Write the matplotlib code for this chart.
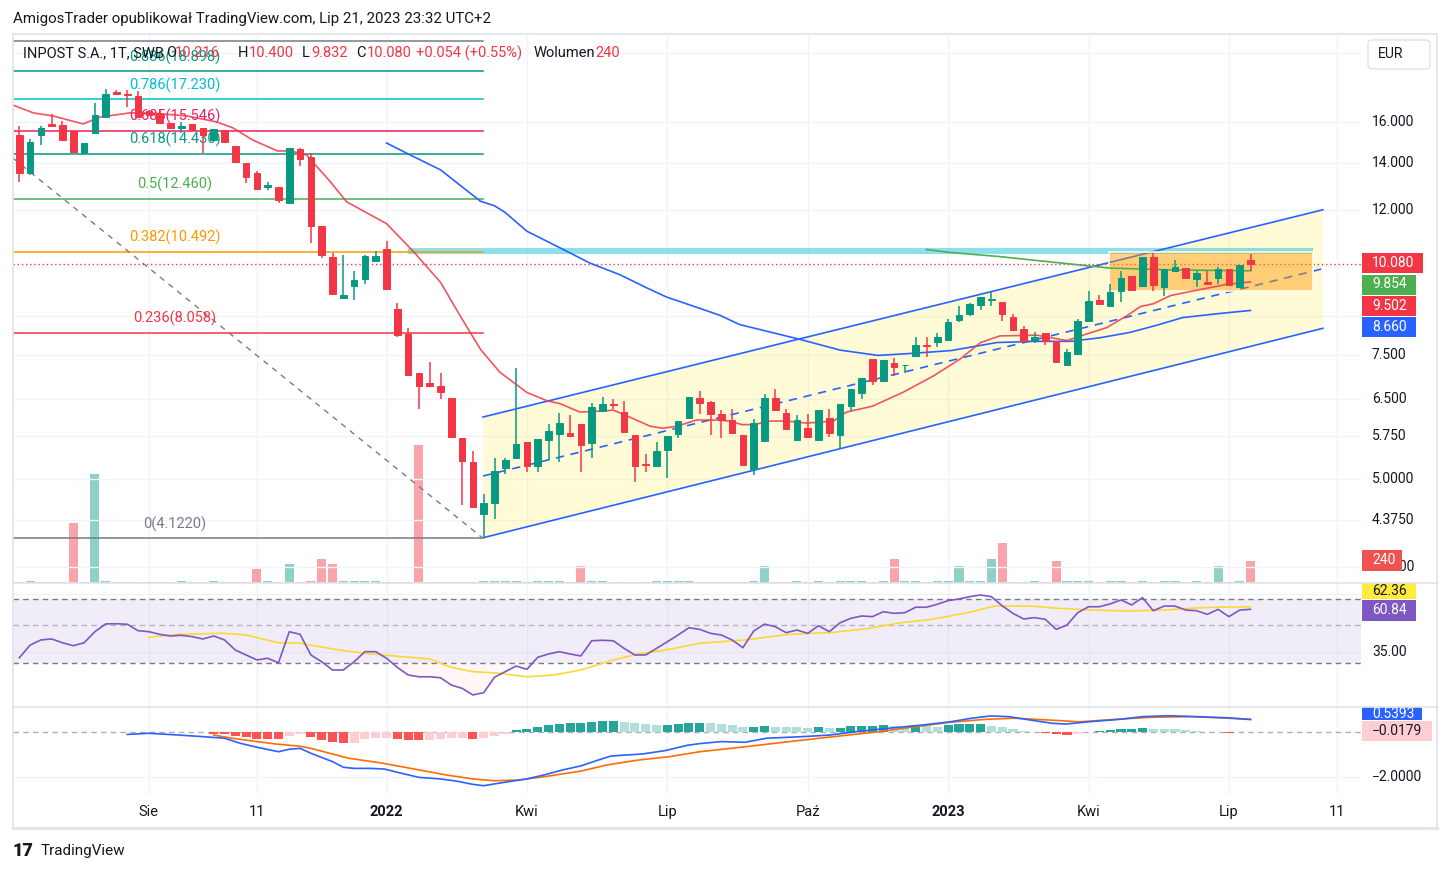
import numpy as np
import matplotlib
matplotlib.use("Agg")
import matplotlib.pyplot as plt
from matplotlib.patches import Rectangle, Polygon, FancyBboxPatch
from matplotlib.lines import Line2D

# ---------------- DATA ----------------
opens = [15.34, 13.53, 15.34, 15.91, 15.85, 15.55, 14.48, 15.45, 16.28, 17.62, 17.55, 17.42, 16.57, 16.46, 15.96, 15.68, 15.90, 15.67, 15.09, 15.59,
         14.80, 13.99, 13.54, 12.95, 12.94, 12.28, 14.67, 14.26, 11.41, 10.31, 9.02, 9.37, 9.60, 10.17, 10.59, 8.69, 8.01, 7.06, 6.83, 6.77,
         6.51, 5.72, 5.29, 4.46, 4.63, 5.19, 5.36, 5.64, 5.22, 5.67, 5.80, 5.81, 5.99, 5.62, 6.25, 6.39, 6.22, 5.77, 5.26, 5.22,
         5.49, 5.79, 6.10, 6.51, 6.42, 6.19, 6.06, 5.77, 5.17, 5.66, 6.51, 6.20, 5.67, 5.91, 5.68, 6.10, 5.78, 6.35, 6.61, 7.39,
         6.88, 7.29, 7.24, 7.47, 7.75, 7.82, 7.86, 8.39, 8.57, 8.81, 8.95, 8.89, 8.47, 8.16, 7.87, 8.04, 7.84, 7.26, 7.51, 8.37,
         8.97, 8.78, 9.22, 9.70, 9.37, 10.31, 9.35, 9.84, 9.94, 9.59, 9.50, 9.61, 9.91, 9.34, 10.216]
highs = [15.79, 15.12, 15.79, 16.44, 16.05, 15.55, 14.96, 17.04, 17.82, 17.76, 17.76, 17.68, 16.62, 16.68, 15.96, 16.02, 15.90, 15.67, 15.63, 15.59,
         14.80, 13.99, 13.65, 13.15, 12.94, 14.69, 14.69, 14.44, 11.41, 10.45, 10.36, 9.84, 10.39, 10.50, 10.86, 8.86, 8.19, 7.06, 7.31, 7.06,
         6.51, 5.72, 5.47, 4.76, 5.35, 5.36, 7.17, 5.64, 5.70, 5.99, 6.20, 6.16, 5.99, 6.40, 6.54, 6.50, 6.45, 5.77, 5.43, 5.65,
         5.75, 6.04, 6.54, 6.66, 6.45, 6.27, 6.28, 5.77, 6.08, 6.59, 6.70, 6.28, 6.16, 6.18, 6.26, 6.28, 6.39, 6.70, 6.94, 7.39,
         7.37, 7.41, 7.26, 7.93, 7.95, 8.04, 8.43, 8.80, 8.86, 9.05, 9.20, 8.89, 8.57, 8.24, 8.06, 8.04, 7.84, 7.65, 8.43, 9.22,
         9.12, 9.43, 9.86, 9.70, 10.31, 10.45, 9.91, 10.19, 9.94, 9.84, 9.86, 9.97, 9.91, 10.05, 10.40]
lows = [13.18, 13.45, 14.85, 15.78, 15.09, 14.50, 14.48, 15.45, 16.28, 17.45, 16.82, 16.28, 16.35, 15.93, 15.70, 15.42, 15.59, 14.48, 15.09, 14.96,
        14.03, 13.11, 12.86, 12.80, 12.28, 12.28, 13.88, 10.78, 10.28, 9.14, 9.02, 8.95, 9.45, 10.17, 9.29, 7.95, 7.02, 6.28, 6.76, 6.50,
        5.71, 4.60, 4.57, 4.122, 4.39, 5.09, 5.36, 5.11, 5.11, 5.32, 5.29, 5.76, 5.11, 5.36, 6.25, 6.29, 5.83, 4.96, 5.11, 5.22,
        5.01, 5.72, 6.10, 6.18, 5.77, 5.72, 5.81, 5.24, 5.06, 5.66, 6.27, 5.88, 5.67, 5.74, 5.68, 5.74, 5.54, 6.24, 6.48, 6.79,
        6.88, 7.00, 7.06, 7.45, 7.45, 7.70, 7.86, 8.33, 8.50, 8.67, 8.78, 8.37, 8.12, 7.85, 7.78, 7.74, 7.29, 7.26, 7.51, 8.37,
        8.85, 8.78, 8.89, 9.27, 9.34, 9.22, 9.07, 9.84, 9.64, 9.35, 9.45, 9.43, 9.40, 9.34, 9.832]
closes = [13.57, 14.99, 15.70, 15.81, 15.09, 14.53, 14.96, 16.39, 17.53, 17.55, 17.45, 16.28, 16.39, 15.93, 15.70, 15.79, 15.59, 15.34, 15.63, 15.00,
          14.03, 13.39, 12.86, 13.05, 12.42, 14.69, 14.19, 11.39, 10.36, 9.14, 9.11, 9.55, 10.33, 10.33, 9.29, 7.99, 7.02, 6.76, 6.76, 6.64,
          5.74, 5.31, 4.57, 4.63, 5.14, 5.32, 5.60, 5.21, 5.70, 5.85, 6.00, 5.76, 5.59, 6.32, 6.39, 6.36, 5.83, 5.22, 5.24, 5.47,
          5.75, 6.04, 6.54, 6.41, 6.18, 6.06, 5.81, 5.24, 6.00, 6.51, 6.27, 5.88, 6.06, 5.74, 6.26, 5.81, 6.39, 6.70, 6.94, 6.88,
          7.37, 7.21, 7.26, 7.73, 7.71, 7.94, 8.33, 8.52, 8.83, 9.05, 8.99, 8.55, 8.12, 7.85, 7.94, 7.83, 7.33, 7.57, 8.37, 8.92,
          8.85, 9.19, 9.63, 9.27, 10.31, 9.40, 9.91, 9.97, 9.64, 9.77, 9.45, 9.91, 9.40, 10.026, 10.080]
volume = [15, 20, 15, 15, 15, 655, 15, 1190, 20, 15, 15, 15, 15, 15, 15, 20, 15, 15, 20, 15,
          15, 15, 150, 20, 15, 207, 15, 20, 262, 207, 20, 20, 20, 20, 15, 15, 15, 1495, 15, 15,
          15, 15, 15, 20, 20, 20, 20, 15, 20, 20, 20, 15, 185, 20, 20, 15, 15, 15, 15, 20,
          20, 20, 20, 15, 15, 15, 15, 15, 20, 185, 15, 15, 20, 15, 20, 15, 20, 20, 20, 15,
          20, 262, 20, 20, 15, 20, 20, 185, 20, 20, 262, 436, 15, 15, 20, 15, 240, 20, 20, 20,
          15, 20, 20, 15, 20, 15, 20, 20, 15, 20, 15, 185, 15, 20, 240]

# moving averages (week index, value)
ma_red_idx = [-0.6, 1.3, 3.1, 5.9, 7.5, 10.2, 12.1, 15.5, 18.3, 19.8, 21.6, 23.9, 25.1, 26.6, 27.2, 28.8, 30.3, 32.7, 34.0, 36.5,
              39.0, 40.8, 42.7, 44.5, 47.0, 48.9, 50.1, 51.9, 54.0, 55.0, 56.5, 58.4, 59.6, 60.9, 62.7, 64.6, 65.8, 66.9, 68.1, 69.3,
              71.1, 72.9, 75.4, 76.6, 79.0, 81.8, 84.6, 87.1, 89.0, 90.8, 94.2, 97.0, 98.5, 100.7, 102.6, 103.8, 105.0, 106.6, 108.4, 110.3,
              111.8, 114.0]
ma_red_val = [16.91, 16.48, 16.32, 15.90, 16.26, 16.48, 16.48, 16.32, 16.00, 15.69, 15.09, 14.56, 14.56, 14.37, 14.03, 13.17, 12.34, 11.78, 11.49, 10.49,
              9.49, 8.52, 7.63, 7.08, 6.63, 6.45, 6.39, 6.22, 6.24, 6.26, 6.12, 5.94, 5.90, 5.94, 6.06, 6.06, 6.04, 5.97, 5.97, 6.04,
              6.04, 6.00, 6.04, 6.22, 6.34, 6.63, 6.99, 7.39, 7.80, 7.97, 7.99, 7.85, 7.99, 8.19, 8.52, 8.77, 8.85, 9.09, 9.21, 9.33,
              9.43, 9.502]
ma_blue_idx = [34, 36, 39, 42.7, 44, 45, 47, 50.7, 52.8, 55.6, 58.1, 59.9, 63, 64.9, 66.7, 72.3, 76, 79.5, 82.7, 86.3,
               90.5, 94, 97.3, 100, 102.8, 105.3, 107.7, 111, 114]
ma_blue_val = [14.94, 14.42, 13.69, 12.36, 12.18, 11.91, 11.21, 10.50, 10.11, 9.73, 9.32, 9.05, 8.72, 8.52, 8.27, 7.88, 7.61, 7.48, 7.53, 7.60,
               7.80, 7.83, 7.83, 7.92, 8.06, 8.25, 8.46, 8.57, 8.66]
ma_green_idx = [84, 86.2, 90.8, 95, 101, 107, 114]
ma_green_val = [10.56, 10.46, 10.32, 10.16, 9.94, 9.88, 9.854]

# fibonacci retracement
fib_labels = ["0(4.1220)", "0.236(8.058)", "0.382(10.492)", "0.5(12.460)", "0.618(14.430)",
              "0.685(15.546)", "0.786(17.230)", "0.886(18.898)", None]
fib_prices = [4.122, 8.058, 10.492, 12.460, 14.430, 15.546, 17.230, 18.898, 20.798]
fib_colors = ["#787b86", "#f23645", "#ff9800", "#4caf50", "#089981", "#e91e63", "#00bcd4", "#089981", "#787b86"]
fib_end_idx = 42.94
fib_trend_idx = [-0.58, 42.94]
fib_trend_val = [14.22, 4.122]

# parallel channel
chan_idx = [42.94, 120.7]
chan_upper = [6.12, 12.02]
chan_mid = [5.05, 9.92]
chan_lower = [4.13, 8.17]

# zones
res_zone_idx = [35.99, 119.8]
res_zone_val = [10.42, 10.62]
box_idx = [100.9, 119.8]
box_val = [9.22, 10.48]

# RSI
rsi = [31.5, 39.2, 42.3, 42.9, 40.6, 38.8, 40.6, 47.3, 52.0, 52.1, 51.8, 47.9, 47.3, 45.7, 44.7, 45.1, 44.3, 42.9, 44.7, 42.3,
       36.2, 33.2, 30.2, 31.2, 28.5, 47.3, 45.7, 33.2, 29.1, 24.1, 24.1, 29.1, 35.2, 35.2, 31.2, 25.7, 21.1, 20.0, 20.0, 19.4,
       15.0, 13.0, 9.0, 10.4, 19.7, 23.1, 26.5, 24.5, 31.8, 33.8, 35.2, 33.8, 32.6, 41.8, 42.1, 41.8, 37.2, 33.2, 33.2, 37.2,
       41.2, 45.3, 49.7, 48.7, 46.3, 45.3, 42.3, 37.6, 47.7, 51.9, 50.3, 46.7, 48.3, 46.3, 50.9, 47.3, 52.7, 55.4, 56.8, 56.4,
       59.4, 58.4, 58.8, 62.1, 62.1, 63.9, 66.1, 67.1, 68.5, 69.5, 68.5, 63.0, 58.4, 55.0, 55.8, 54.8, 48.7, 51.3, 58.8, 62.4,
       62.4, 64.1, 66.5, 63.5, 67.9, 60.0, 62.8, 62.8, 60.4, 60.0, 57.8, 60.8, 56.4, 60.4, 60.84]
rsi_ma_idx = [12, 14.7, 19, 21, 24, 26, 29.6, 32, 35.4, 38, 40, 42, 44.5, 47, 49.5, 52, 55, 57.3, 60.2, 63,
              67.2, 71.3, 75.4, 78.7, 81.6, 84.5, 87.8, 90.3, 93.6, 96.1, 99.4, 102.7, 106, 108.5, 111, 114]
rsi_ma_val = [43.9, 45.7, 46.3, 45.3, 40.6, 40.3, 36.2, 34.2, 32.2, 30.8, 25.7, 23.1, 22.1, 20.0, 21.1, 24.1, 30.2, 33.8, 36.6, 40.3,
              42.3, 45.7, 46.9, 49.3, 52.7, 54.8, 58.8, 62.8, 62.8, 61.5, 60.4, 59.8, 60.4, 61.5, 62.1, 62.36]
rsi_bands = [28.2, 51.3, 66.9]

# MACD
macd_idx = [10, 12, 14.8, 17, 19, 20.5, 22, 24, 25, 26, 27, 29, 30, 31, 32.5, 33.8, 35.4, 37, 39, 40.4,
            42, 43, 44, 45.3, 47, 48.6, 50.3, 52, 53.6, 54.8, 57.7, 59.8, 61.9, 63, 65, 67.2, 69.2, 72.5, 75, 77.5,
            80.4, 83.7, 86.2, 88.2, 89.9, 91.6, 93.6, 95.7, 96.9, 99, 101.9, 104, 106.4, 108.9, 111.8, 114]
macd_val = [-0.12, -0.07, -0.15, -0.22, -0.29, -0.52, -0.69, -0.89, -0.78, -0.74, -0.96, -1.33, -1.58, -1.63, -1.63, -1.66, -1.85, -2.03, -2.10, -2.19,
            -2.34, -2.40, -2.32, -2.22, -2.10, -1.92, -1.70, -1.52, -1.26, -1.08, -0.99, -0.84, -0.60, -0.53, -0.44, -0.47, -0.29, -0.22, -0.15, 0.0,
            0.15, 0.30, 0.44, 0.60, 0.70, 0.67, 0.52, 0.37, 0.34, 0.44, 0.55, 0.67, 0.71, 0.67, 0.62, 0.5393]
signal_idx = [18, 19.7, 22, 23.8, 25.9, 27, 30.5, 33.4, 36.7, 39.5, 42, 44, 46.2, 48.6, 52, 54.4, 57.3, 60.2, 63, 67.2,
              71.3, 75.4, 79.6, 82.9, 86.2, 89.5, 92.2, 95.3, 98.2, 101.5, 104.8, 108.5, 114]
signal_val = [-0.15, -0.29, -0.44, -0.55, -0.64, -0.74, -1.18, -1.38, -1.67, -1.92, -2.10, -2.18, -2.15, -2.00, -1.75, -1.48, -1.26, -1.11, -0.89, -0.67,
              -0.44, -0.22, 0.0, 0.22, 0.42, 0.55, 0.60, 0.52, 0.44, 0.55, 0.64, 0.67, 0.557]
hist_start = 18
hist_val = [-0.08, -0.10, -0.20, -0.22, -0.32, -0.33, -0.34, -0.19, -0.10, -0.22, -0.37, -0.44, -0.52, -0.49, -0.34, -0.28, -0.27, -0.34, -0.36, -0.37,
            -0.36, -0.31, -0.30, -0.30, -0.31, -0.27, -0.18, -0.09, 0.07, 0.12, 0.22, 0.30, 0.34, 0.38, 0.39, 0.43, 0.46, 0.47, 0.43, 0.37,
            0.34, 0.30, 0.31, 0.34, 0.38, 0.39, 0.37, 0.33, 0.28, 0.22, 0.23, 0.25, 0.22, 0.20, 0.19, 0.17, 0.21, 0.17, 0.18, 0.25,
            0.26, 0.27, 0.28, 0.25, 0.22, 0.27, 0.26, 0.22, 0.32, 0.33, 0.34, 0.35, 0.27, 0.20, 0.10, 0.03, -0.02, -0.07, -0.11, -0.14,
            -0.08, -0.01, 0.02, 0.06, 0.10, 0.11, 0.17, 0.13, 0.12, 0.10, 0.07, 0.04, -0.01, -0.03, -0.05, -0.03, -0.0179]

xtick_pos = [12, 22, 34, 47, 60, 73, 86, 99, 112, 122]
xtick_lab = ["Sie", "11", "2022", "Kwi", "Lip", "Paź", "2023", "Kwi", "Lip", "11"]
xtick_bold = [False, False, True, False, False, False, True, False, False, False]

price_ticks = [16.0, 14.0, 12.0, 7.5, 6.5, 5.75, 5.0, 4.375, 3.75]
price_tick_lab = ["16.000", "14.000", "12.000", "7.500", "6.500", "5.750", "5.0000", "4.3750", "3.7500"]
price_grid = [20.0, 16.0, 14.0, 12.0, 10.0, 8.5, 7.5, 6.5, 5.75, 5.0, 4.375, 3.75]

# ---------------- STYLE ----------------
plt.rcParams['font.family'] = ['Roboto', 'DejaVu Sans']
GREEN = "#089981"
RED = "#f23645"
TXT = "#131722"
GRID = "#f0f3fa"
BORDER = "#e0e3eb"

W, H = 1450, 873
fig = plt.figure(figsize=(W / 100, H / 100), dpi=100)
fig.patch.set_facecolor("white")


def fx(px):
    return px / W


def fy(py):
    return 1 - py / H


def rect(x0, y0, x1, y1):
    return [fx(x0), fy(y1), (x1 - x0) / W, (y1 - y0) / H]


PL, PR = 13, 1361
XLIM = (-0.583, 124.23)

ax_vol = fig.add_axes(rect(PL, 34, PR, 583))
ax = fig.add_axes(rect(PL, 34, PR, 583))
ax_rsi = fig.add_axes(rect(PL, 583, PR, 707))
ax_macd = fig.add_axes(rect(PL, 707, PR, 794))
ax.patch.set_alpha(0)

for a in (ax_vol, ax, ax_rsi, ax_macd):
    a.set_xlim(*XLIM)
    for s in a.spines.values():
        s.set_visible(False)
    a.set_xticks([])
    a.set_yticks([])

# vertical grid (drawn in back axes)
for a in (ax_vol, ax_rsi, ax_macd):
    for xp in xtick_pos:
        a.axvline(xp, color=GRID, lw=1, zorder=0)

# ---------------- MAIN PANE ----------------
ax.set_yscale("log")
ax.set_ylim(3.564, 21.31)
ax.minorticks_off()
ax.set_yticks([])
for gp in price_grid:
    ax.axhline(gp, color=GRID, lw=1, zorder=0)

# volume
ax_vol.set_ylim(0, 5967)
n = len(closes)
idx = np.arange(n)
vcols = ["#089981" if c >= o else "#f23645" for o, c in zip(opens, closes)]
ax_vol.bar(idx, volume, width=0.85, color=vcols, alpha=0.45, lw=0)

# channel
poly = Polygon([(chan_idx[0], chan_lower[0]), (chan_idx[0], chan_upper[0]),
                (chan_idx[1], chan_upper[1]), (chan_idx[1], chan_lower[1])],
               closed=True, facecolor="#ffeb3b", alpha=0.2, lw=0, zorder=1)
ax.add_patch(poly)

# resistance zone (cyan)
ax.add_patch(Rectangle((res_zone_idx[0], res_zone_val[0]), res_zone_idx[1] - res_zone_idx[0],
                       res_zone_val[1] - res_zone_val[0], facecolor="#00bcd4", alpha=0.45, lw=0, zorder=1.5))

ax.plot(chan_idx, chan_upper, color="#2962ff", lw=1.2, zorder=2)
ax.plot(chan_idx, chan_lower, color="#2962ff", lw=1.2, zorder=2)
ax.plot(chan_idx, chan_mid, color="#2962ff", lw=1.2, ls=(0, (5, 4)), zorder=2)

# orange box
ax.add_patch(Rectangle((box_idx[0], box_val[0]), box_idx[1] - box_idx[0], box_val[1] - box_val[0],
                       facecolor="#ff9800", alpha=0.45, lw=0, zorder=2.5))
ax.add_patch(Rectangle((box_idx[0], box_val[0]), box_idx[1] - box_idx[0], box_val[1] - box_val[0],
                       facecolor="none", edgecolor="white", alpha=0.9, lw=1.2, zorder=2.6))

# fibonacci
for lab, pr, col in zip(fib_labels, fib_prices, fib_colors):
    ax.plot([-5, fib_end_idx], [pr, pr], color=col, lw=1.1, zorder=2)
    if lab:
        ax.annotate(lab, xy=(14.4, pr), xycoords="data", xytext=(0, 14), textcoords="offset pixels",
                    ha="center", va="center", color=col, fontsize=10.5, zorder=3, annotation_clip=False)
ax.plot(fib_trend_idx, fib_trend_val, color="#787b86", lw=1, ls=(0, (4, 4)), zorder=2)

# close dotted line
ax.axhline(closes[-1], color=RED, lw=1, ls=(0, (1, 2)), zorder=2)

# moving averages
ax.plot(ma_blue_idx, ma_blue_val, color="#2962ff", lw=1.2, zorder=3)
ax.plot(ma_green_idx, ma_green_val, color="#4caf50", lw=1.2, zorder=3)
ax.plot(ma_red_idx, ma_red_val, color="#f23645", lw=1.2, alpha=0.85, zorder=3)

# candles
for i in range(n):
    o, h, l, c = opens[i], highs[i], lows[i], closes[i]
    col = GREEN if c >= o else RED
    ax.vlines(i, l, h, color=col, lw=1.1, zorder=4)
    ax.bar(i, abs(c - o), bottom=min(o, c), width=0.62, color=col, edgecolor=col, lw=0.7, zorder=5)

# price axis labels
for pv, pl in zip(price_ticks, price_tick_lab):
    ax.annotate(pl, xy=(1, pv), xycoords=("axes fraction", "data"), xytext=(11, 0), textcoords="offset pixels",
                ha="left", va="center", fontsize=10, color=TXT, annotation_clip=False)


def label_box(x0, x1, yc, h, fc, text, tc="white", tx=1372):
    fig.add_artist(Rectangle((fx(x0), fy(yc + h / 2)), (x1 - x0) / W, h / H, transform=fig.transFigure,
                             facecolor=fc, edgecolor="none", zorder=10))
    fig.text(fx(tx), fy(yc), text, ha="left", va="center", color=tc, fontsize=10, zorder=11)


label_box(1362, 1423, 263, 20, "#f23645", f"{closes[-1]:.3f}")
label_box(1362, 1416, 284.5, 20, "#4caf50", f"{ma_green_val[-1]:.3f}")
label_box(1362, 1416, 306, 20, "#f23645", f"{ma_red_val[-1]:.3f}")
label_box(1362, 1416, 327, 20, "#2962ff", f"{ma_blue_val[-1]:.3f}")
label_box(1362, 1402, 560.5, 21, "#ef5350", f"{volume[-1]}")

# EUR box
fig.add_artist(FancyBboxPatch((fx(1368), fy(69)), 62 / W, 29 / H, boxstyle="round,pad=0,rounding_size=0.004",
                              transform=fig.transFigure, facecolor="white", edgecolor=BORDER, lw=1))
fig.text(fx(1391), fy(54), "EUR", ha="center", va="center", fontsize=10, color=TXT)

# ---------------- RSI PANE ----------------
ax_rsi.set_ylim(1.71, 76.77)
ax_rsi.axhline(35, color=GRID, lw=1, zorder=0)
ax_rsi.axhline(70, color=GRID, lw=1, zorder=0)
ax_rsi.axhspan(rsi_bands[0], rsi_bands[2], color="#7e57c2", alpha=0.1, lw=0, zorder=0.5)
ax_rsi.axhline(rsi_bands[2], color="#787b86", lw=1, ls=(0, (4, 3)), zorder=1)
ax_rsi.axhline(rsi_bands[1], color="#787b86", lw=1, ls=(0, (4, 3)), alpha=0.5, zorder=1)
ax_rsi.axhline(rsi_bands[0], color="#787b86", lw=1, ls=(0, (4, 3)), zorder=1)
rsi_arr = np.array(rsi)
ax_rsi.fill_between(idx, rsi_arr, rsi_bands[0], where=rsi_arr < rsi_bands[0], interpolate=True,
                    color="#ff5252", alpha=0.05, lw=0)
ax_rsi.plot(rsi_ma_idx, rsi_ma_val, color="#fdd835", lw=1.2, zorder=2)
ax_rsi.plot(idx, rsi, color="#7e57c2", lw=1.2, zorder=3)
ax_rsi.annotate("35.00", xy=(1, 35), xycoords=("axes fraction", "data"), xytext=(11, 0), textcoords="offset pixels",
                ha="left", va="center", fontsize=10, color=TXT, annotation_clip=False)
label_box(1362, 1416, 591, 16, "#ffeb3b", f"{rsi_ma_val[-1]:.2f}", tc=TXT)
label_box(1362, 1416, 610.5, 21, "#7e57c2", f"{rsi[-1]:.2f}")

# ---------------- MACD PANE ----------------
ax_macd.set_ylim(-2.769, 1.098)
ax_macd.axhline(-2.0, color=GRID, lw=1, zorder=0)
ax_macd.axhline(0, color="#787b86", lw=1, ls=(0, (4, 3)), alpha=0.6, zorder=1)
hcols = []
prev = None
for h in hist_val:
    if h >= 0:
        col = "#26a69a" if (prev is None or h > prev) else "#b2dfdb"
    else:
        col = "#ff5252" if (prev is None or h < prev) else "#ffcdd2"
    hcols.append(col)
    prev = h
hidx = np.arange(hist_start, hist_start + len(hist_val))
ax_macd.bar(hidx, hist_val, width=0.85, color=hcols, lw=0, zorder=2)
ax_macd.plot(signal_idx, signal_val, color="#ff6d00", lw=1.2, zorder=3)
ax_macd.plot(macd_idx, macd_val, color="#2962ff", lw=1.2, zorder=4)
ax_macd.annotate("\u22122.0000", xy=(1, -2.0), xycoords=("axes fraction", "data"), xytext=(11, 0),
                 textcoords="offset pixels", ha="left", va="center", fontsize=10, color=TXT, annotation_clip=False)
label_box(1362, 1422, 713.5, 13, "#2962ff", f"{macd_val[-1]:.4f}")
label_box(1362, 1432, 731, 20, "#ffcdd2", "\u2212" + f"{abs(hist_val[-1]):.4f}", tc=TXT)

# time axis labels
for xp, xl, b in zip(xtick_pos, xtick_lab, xtick_bold):
    ax_macd.annotate(xl, xy=(xp, 0), xycoords=("data", "axes fraction"), xytext=(0, -18),
                     textcoords="offset pixels", ha="center", va="center", fontsize=10.5,
                     fontweight="bold" if b else "normal", color=TXT, annotation_clip=False)


# frame & separators
def fline(x0, y0, x1, y1, col=BORDER, lw=1.2):
    fig.add_artist(Line2D([fx(x0), fx(x1)], [fy(y0), fy(y1)], transform=fig.transFigure, color=col, lw=lw, zorder=20))


fline(13, 34, 1437, 34)
fline(13, 34, 13, 828)
fline(1437, 34, 1437, 828)
fline(13, 828, 1437, 828, lw=2)
fline(13, 583, 1437, 583)
fline(13, 707, 1437, 707)

# header texts
fig.text(fx(13), fy(19), "AmigosTrader opublikował TradingView.com, Lip 21, 2023 23:32 UTC+2",
         ha="left", va="center", fontsize=10.8, color=TXT)
hdr = [(23, "INPOST S.A., 1T, SWB", TXT), (166, "O", TXT), (175, f"{opens[-1]:.3f}", RED),
       (238, "H", TXT), (249, f"{highs[-1]:.3f}", RED), (302, "L", TXT), (311, f"{lows[-1]:.3f}", RED),
       (356, "C", TXT), (367, f"{closes[-1]:.3f}", RED), (416, "+0.054 (+0.55%)", RED),
       (534, "Wolumen", TXT), (595, f"{volume[-1]}", RED)]
for x0, t, c in hdr:
    fig.text(fx(x0), fy(53), t, ha="left", va="center", fontsize=10.5, color=c, zorder=12)

# footer logo
fig.text(fx(13), fy(851), "17", ha="left", va="center", fontsize=13, fontweight="black", color=TXT)
fig.text(fx(41), fy(851), "TradingView", ha="left", va="center", fontsize=11, color=TXT)

fig.savefig("out.png", dpi=100)
